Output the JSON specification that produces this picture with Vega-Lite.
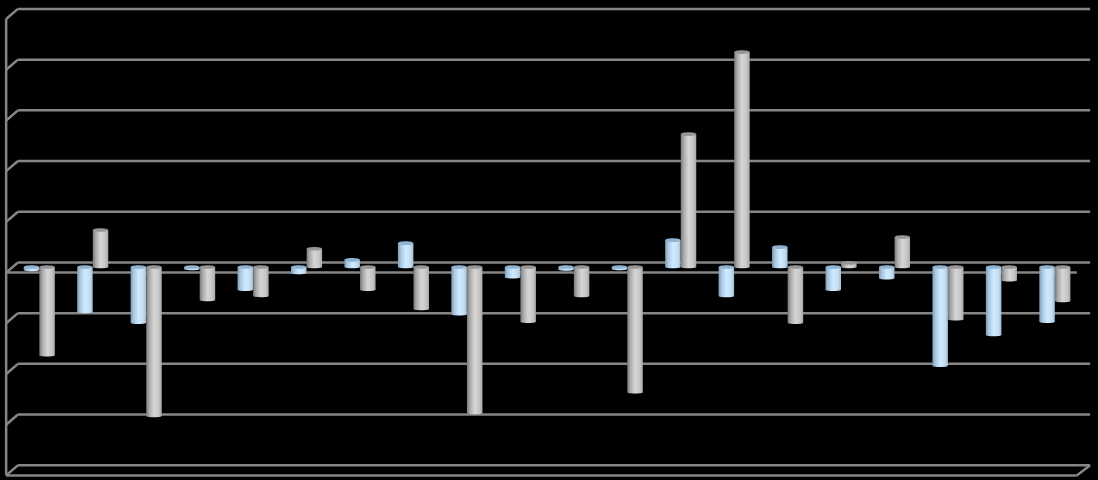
{"$schema":"https://vega.github.io/schema/vega-lite/v6.json","width":1098,"height":480,"padding":0,"autosize":"none","background":"#000000","config":{"view":{"stroke":null}},
"datasets":{"frame":[
{"a":0.6,"b":20.66,"c":50.9,"d":50.9},{"a":0.6,"b":20.66,"c":40.9,"d":40.9},{"a":0.6,"b":20.66,"c":30.9,"d":30.9},{"a":0.6,"b":20.66,"c":20.9,"d":20.9},{"a":0.6,"b":20.66,"c":10.9,"d":10.9},{"a":0.6,"b":20.66,"c":0.9,"d":0.9},{"a":0.6,"b":20.66,"c":-9.1,"d":-9.1},{"a":0.6,"b":20.66,"c":-19.1,"d":-19.1},{"a":0.6,"b":20.66,"c":-29.1,"d":-29.1},{"a":0.6,"b":20.66,"c":-39.1,"d":-39.1},
{"a":0.38,"b":0.6,"c":48.9,"d":50.9},{"a":0.38,"b":0.6,"c":38.9,"d":40.9},{"a":0.38,"b":0.6,"c":28.9,"d":30.9},{"a":0.38,"b":0.6,"c":18.9,"d":20.9},{"a":0.38,"b":0.6,"c":8.9,"d":10.9},{"a":0.38,"b":0.6,"c":-1.1,"d":0.9},{"a":0.38,"b":0.6,"c":-11.1,"d":-9.1},{"a":0.38,"b":0.6,"c":-21.1,"d":-19.1},{"a":0.38,"b":0.6,"c":-31.1,"d":-29.1},{"a":0.38,"b":0.6,"c":-41.1,"d":-39.1},
{"a":0.38,"b":20.41,"c":-1.1,"d":-1.1},{"a":0.38,"b":20.41,"c":-41.1,"d":-41.1},{"a":0.38,"b":0.38,"c":48.9,"d":-41.1},{"a":20.41,"b":20.66,"c":-41.1,"d":-39.1}],
"bars":[
{"g":1,"s":"a","v":-0.6},{"g":1,"s":"b","v":-17.4},{"g":2,"s":"a","v":-8.9},{"g":2,"s":"b","v":7.3},{"g":3,"s":"a","v":-11},{"g":3,"s":"b","v":-29.4},{"g":4,"s":"a","v":-0.4},{"g":4,"s":"b","v":-6.5},{"g":5,"s":"a","v":-4.5},{"g":5,"s":"b","v":-5.7},{"g":6,"s":"a","v":-1.2},{"g":6,"s":"b","v":3.6},{"g":7,"s":"a","v":1.4},{"g":7,"s":"b","v":-4.5},{"g":8,"s":"a","v":4.7},{"g":8,"s":"b","v":-8.3},{"g":9,"s":"a","v":-9.3},{"g":9,"s":"b","v":-28.8},{"g":10,"s":"a","v":-2},{"g":10,"s":"b","v":-10.8},{"g":11,"s":"a","v":-0.5},{"g":11,"s":"b","v":-5.7},{"g":12,"s":"a","v":-0.4},{"g":12,"s":"b","v":-24.7},{"g":13,"s":"a","v":5.3},{"g":13,"s":"b","v":26.2},{"g":14,"s":"a","v":-5.7},{"g":14,"s":"b","v":42.4},{"g":15,"s":"a","v":3.9},{"g":15,"s":"b","v":-11},{"g":16,"s":"a","v":-4.5},{"g":16,"s":"b","v":0.8},{"g":17,"s":"a","v":-2.2},{"g":17,"s":"b","v":5.9},{"g":18,"s":"a","v":-19.5},{"g":18,"s":"b","v":-10.3},{"g":19,"s":"a","v":-13.4},{"g":19,"s":"b","v":-2.6},{"g":20,"s":"a","v":-10.8},{"g":20,"s":"b","v":-6.7}]},
"layer":[
{"data":{"name":"frame"},"mark":{"type":"rule","stroke":"#868686","strokeWidth":2.5},"encoding":{"x":{"field":"a","type":"quantitative","scale":{"domain":[0.265,20.807],"nice":false,"zero":false,"padding":0},"axis":null},"x2":{"field":"b"},"y":{"field":"c","type":"quantitative","scale":{"domain":[-42.01,52.66],"nice":false,"zero":false},"axis":null},"y2":{"field":"d"}}},
{"data":{"name":"bars"},"transform":[{"filter":"datum.s==='a'"}],"encoding":{"x":{"field":"g","type":"quantitative","axis":null},"y":{"field":"v","type":"quantitative","axis":null}},
"layer":[
{"mark":{"type":"bar","width":15.5,"xOffset":-7.8,"fill":{"x1":0,"y1":0,"x2":1,"y2":0,"gradient":"linear","stops":[{"offset":0,"color":"#7d9cb6"},{"offset":0.2,"color":"#a9c8e2"},{"offset":0.5,"color":"#d0eaff"},{"offset":0.8,"color":"#c4def4"},{"offset":1,"color":"#a3bdd3"}]}},"encoding":{"y2":{"datum":0}}},
{"transform":[{"filter":"datum.v<0"}],"mark":{"type":"point","xOffset":-7.8,"filled":true,"opacity":1,"fill":{"x1":0,"y1":0,"x2":1,"y2":0,"gradient":"linear","stops":[{"offset":0,"color":"#7d9cb6"},{"offset":0.2,"color":"#a9c8e2"},{"offset":0.5,"color":"#d0eaff"},{"offset":0.8,"color":"#c4def4"},{"offset":1,"color":"#a3bdd3"}]},"shape":"M-1,0A1,0.16,0,1,0,1,0A1,0.16,0,1,0,-1,0Z","size":240}},
{"transform":[{"filter":"datum.v>=0"}],"mark":{"type":"point","xOffset":-7.8,"filled":true,"opacity":1,"fill":{"x1":0,"y1":0,"x2":1,"y2":0,"gradient":"linear","stops":[{"offset":0,"color":"#7d9cb6"},{"offset":0.2,"color":"#a9c8e2"},{"offset":0.5,"color":"#d0eaff"},{"offset":0.8,"color":"#c4def4"},{"offset":1,"color":"#a3bdd3"}]},"shape":"M-1,0A1,0.16,0,1,0,1,0A1,0.16,0,1,0,-1,0Z","size":240},"encoding":{"y":{"datum":0}}},
{"transform":[{"filter":"datum.v<0"}],"mark":{"type":"point","xOffset":-7.8,"filled":true,"opacity":1,"fill":"#8fb3d0","shape":"M-1,0A1,0.24,0,1,0,1,0A1,0.24,0,1,0,-1,0Z","size":240},"encoding":{"y":{"datum":0}}},
{"transform":[{"filter":"datum.v>=0"}],"mark":{"type":"point","xOffset":-7.8,"filled":true,"opacity":1,"fill":"#8fb3d0","shape":"M-1,0A1,0.24,0,1,0,1,0A1,0.24,0,1,0,-1,0Z","size":240}}
]},
{"data":{"name":"bars"},"transform":[{"filter":"datum.s==='b'"}],"encoding":{"x":{"field":"g","type":"quantitative","axis":null},"y":{"field":"v","type":"quantitative","axis":null}},
"layer":[
{"mark":{"type":"bar","width":15.5,"xOffset":7.8,"fill":{"x1":0,"y1":0,"x2":1,"y2":0,"gradient":"linear","stops":[{"offset":0,"color":"#7a7a7a"},{"offset":0.2,"color":"#ababab"},{"offset":0.5,"color":"#d6d6d6"},{"offset":0.8,"color":"#c6c6c6"},{"offset":1,"color":"#a6a6a6"}]}},"encoding":{"y2":{"datum":0}}},
{"transform":[{"filter":"datum.v<0"}],"mark":{"type":"point","xOffset":7.8,"filled":true,"opacity":1,"fill":{"x1":0,"y1":0,"x2":1,"y2":0,"gradient":"linear","stops":[{"offset":0,"color":"#7a7a7a"},{"offset":0.2,"color":"#ababab"},{"offset":0.5,"color":"#d6d6d6"},{"offset":0.8,"color":"#c6c6c6"},{"offset":1,"color":"#a6a6a6"}]},"shape":"M-1,0A1,0.16,0,1,0,1,0A1,0.16,0,1,0,-1,0Z","size":240}},
{"transform":[{"filter":"datum.v>=0"}],"mark":{"type":"point","xOffset":7.8,"filled":true,"opacity":1,"fill":{"x1":0,"y1":0,"x2":1,"y2":0,"gradient":"linear","stops":[{"offset":0,"color":"#7a7a7a"},{"offset":0.2,"color":"#ababab"},{"offset":0.5,"color":"#d6d6d6"},{"offset":0.8,"color":"#c6c6c6"},{"offset":1,"color":"#a6a6a6"}]},"shape":"M-1,0A1,0.16,0,1,0,1,0A1,0.16,0,1,0,-1,0Z","size":240},"encoding":{"y":{"datum":0}}},
{"transform":[{"filter":"datum.v<0"}],"mark":{"type":"point","xOffset":7.8,"filled":true,"opacity":1,"fill":"#969696","shape":"M-1,0A1,0.24,0,1,0,1,0A1,0.24,0,1,0,-1,0Z","size":240},"encoding":{"y":{"datum":0}}},
{"transform":[{"filter":"datum.v>=0"}],"mark":{"type":"point","xOffset":7.8,"filled":true,"opacity":1,"fill":"#969696","shape":"M-1,0A1,0.24,0,1,0,1,0A1,0.24,0,1,0,-1,0Z","size":240}}
]}
]}
